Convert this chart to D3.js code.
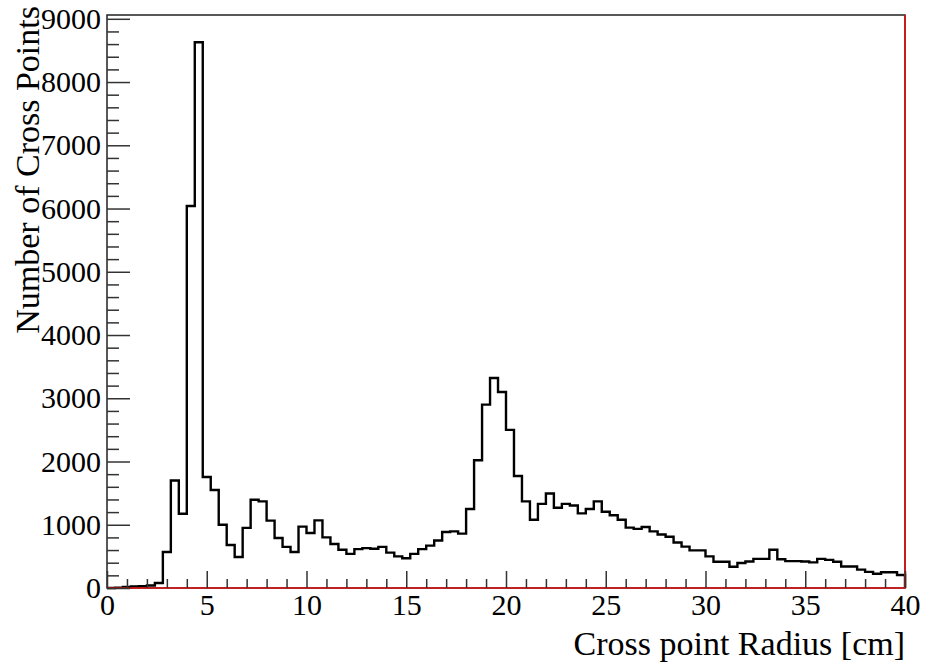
<!DOCTYPE html>
<html><head><meta charset="utf-8">
<script src="https://cdn.jsdelivr.net/npm/d3@7"></script>
<style>body{margin:0;background:#fff}</style>
</head><body>
<svg id="c" width="928" height="665"></svg>
<script>
// ---- data ----
const binLow = 0;
const binHigh = 40;
const counts = [
  0, 5, 15, 25, 30, 40, 80, 570, 1700, 1175,
  6040, 8630, 1755, 1550, 1000, 680, 490, 950, 1395, 1370,
  1065, 790, 650, 570, 970, 870, 1070, 800, 695, 605,
  540, 615, 630, 620, 650, 560, 500, 470, 540, 615,
  670, 750, 885, 895, 860, 1250, 2020, 2900, 3320, 3100,
  2500, 1770, 1370, 1080, 1330, 1495, 1270, 1330, 1305, 1180,
  1250, 1370, 1205, 1150, 1080, 955, 935, 965, 895, 845,
  810, 720, 655, 595, 595, 500, 415, 415, 335, 395,
  420, 460, 460, 605, 455, 425, 425, 420, 405, 460,
  445, 415, 340, 340, 290, 255, 225, 250, 250, 205
];
const xTickValues = [0, 5, 10, 15, 20, 25, 30, 35, 40];
const xMinorValues = [1,2,3,4,6,7,8,9,11,12,13,14,16,17,18,19,21,22,23,24,26,27,28,29,31,32,33,34,36,37,38,39];
const yTickValues = [0, 1000, 2000, 3000, 4000, 5000, 6000, 7000, 8000, 9000];
const yMinorValues = d3.range(200, 9000, 200).filter(v => v % 1000 !== 0);
const yMax = 9060;
const xTitle = "Cross point Radius [cm]";
const yTitle = "Number of Cross Points";

// ---- drawing ----
const svg = d3.select("#c");
const font = "'Liberation Serif','Times New Roman',serif";
const x = d3.scaleLinear().domain([binLow, binHigh]).range([107, 905]);
const y = d3.scaleLinear().domain([0, yMax]).range([588, 15]);

// frame
svg.append("rect")
  .attr("x", x(binLow)).attr("y", y(yMax))
  .attr("width", x(binHigh) - x(binLow)).attr("height", y(0) - y(yMax))
  .attr("fill", "none").attr("stroke", "#222").attr("stroke-width", 1.5);

// histogram
const w = (binHigh - binLow) / counts.length;
const pts = [[binLow, 0]];
counts.forEach((c, i) => { pts.push([binLow + i * w, c]); pts.push([binLow + (i + 1) * w, c]); });
pts.push([binHigh, 0]);
svg.append("path")
  .attr("d", d3.line().x(d => x(d[0])).y(d => y(d[1]))(pts))
  .attr("fill", "none").attr("stroke", "#000").attr("stroke-width", 2.4)
  .attr("stroke-linejoin", "miter");

// red baseline + right edge
svg.append("path")
  .attr("d", d3.line().x(d => x(d[0])).y(d => y(d[1]))([[binLow, 0], [binHigh, 0], [binHigh, yMax]]))
  .attr("fill", "none").attr("stroke", "#e01010").attr("stroke-width", 1.6);

function styleAxis(g) {
  g.select(".domain").remove();
  g.selectAll("line").attr("stroke", "#333").attr("stroke-width", 1.5);
  g.selectAll("text").attr("font-family", font).attr("font-size", 30).attr("fill", "#000");
}

// x axis
svg.append("g").attr("transform", `translate(0,${y(0)})`)
  .call(d3.axisBottom(x).tickValues(xTickValues).tickSize(-17).tickPadding(6).tickFormat(d3.format("d")))
  .call(styleAxis);
svg.append("g").attr("transform", `translate(0,${y(0)})`)
  .call(d3.axisBottom(x).tickValues(xMinorValues).tickSize(-9).tickFormat(""))
  .call(styleAxis);

// y axis
svg.append("g").attr("transform", `translate(${x(binLow)},0)`)
  .call(d3.axisLeft(y).tickValues(yTickValues).tickSize(-23).tickPadding(6).tickFormat(d3.format("d")))
  .call(styleAxis);
svg.append("g").attr("transform", `translate(${x(binLow)},0)`)
  .call(d3.axisLeft(y).tickValues(yMinorValues).tickSize(-12).tickFormat(""))
  .call(styleAxis);

// titles
svg.append("text")
  .attr("x", x(binHigh)).attr("y", 655)
  .attr("text-anchor", "end")
  .attr("font-family", font).attr("font-size", 34).attr("fill", "#000")
  .text(xTitle);
svg.append("text")
  .attr("transform", `translate(39,6) rotate(-90)`)
  .attr("text-anchor", "end")
  .attr("font-family", font).attr("font-size", 34).attr("fill", "#000")
  .text(yTitle);
</script>
</body></html>
